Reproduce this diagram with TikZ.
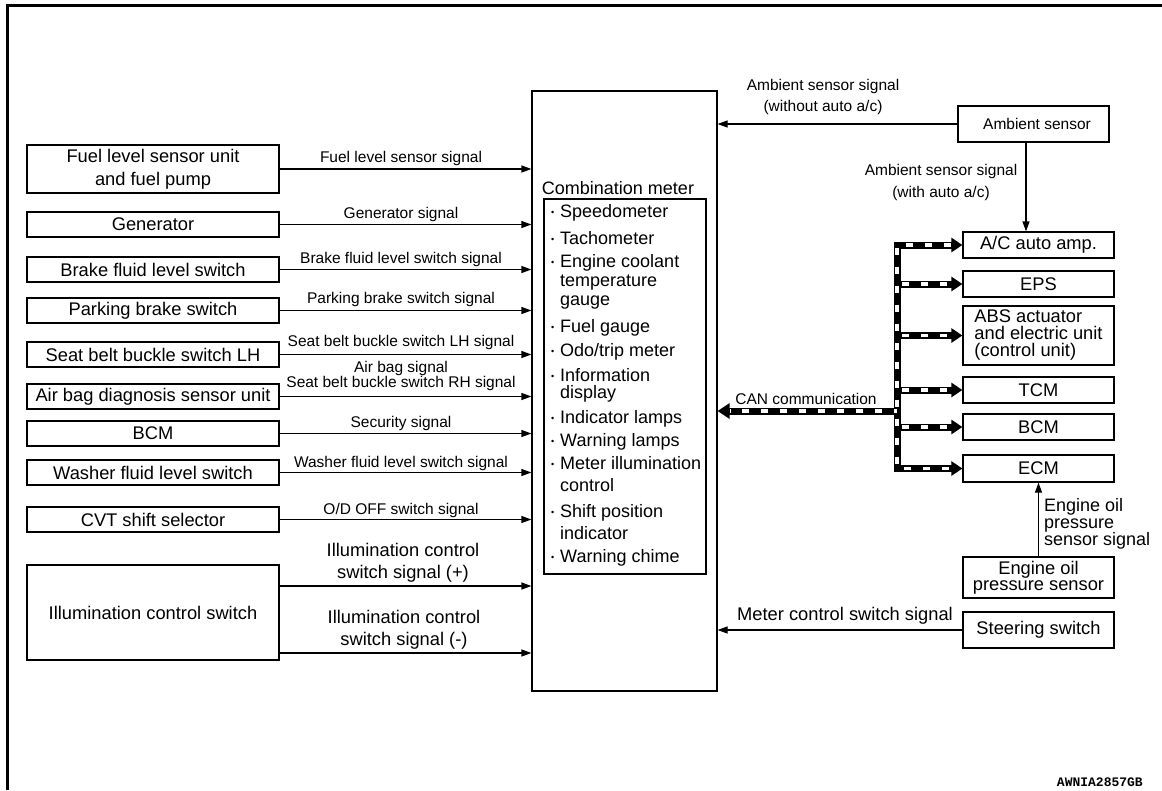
\documentclass[tikz,border=0pt]{standalone}
\usepackage{fontspec}
\setmainfont{Liberation Sans}
\newfontfamily\codefont{Liberation Mono}
\usetikzlibrary{arrows.meta,calc}
\newcommand\bul{\llap{\raisebox{1.8pt}{\fontsize{9}{9}\selectfont •}\hspace{6pt}}}
\tikzset{
  blk/.style={draw, line width=1.2pt, inner sep=0pt, align=center, font=\fontsize{18.3}{21}\selectfont},
  lbox/.style={blk, minimum width=252pt, minimum height=25pt},
  rbox/.style={blk, minimum width=151pt},
  lbl/.style={inner sep=0pt, align=center, font=\fontsize{15.5}{14}\selectfont},
  biglbl/.style={inner sep=0pt, align=center, font=\fontsize{18.3}{22}\selectfont},
  sig/.style={line width=1.2pt, -{Triangle[length=10pt,width=7pt]}},
  canb/.style={line width=7pt},
  cantip/.style={-{Triangle[length=12pt,width=15pt]}},
  canw/.style={line width=3.6pt, white, dash pattern=on 7pt off 12pt},
  item/.style={anchor=west, inner sep=0pt, align=left, font=\fontsize{18}{21}\selectfont},
}
\begin{document}
\begin{tikzpicture}[x=1pt,y=-1pt]
\useasboundingbox (0,0) rectangle (1162,790);
% frame
\draw[line width=3.5pt] (7.5,790) -- (7.5,5.5) -- (1162,5.5);

% combination meter
\node[draw, line width=1.2pt, minimum width=185pt, minimum height=600pt, inner sep=0pt] (meter) at (624.5,391) {};
\node[draw, line width=1.2pt, minimum width=162pt, minimum height=375pt, inner sep=0pt] (list) at (625,386.5) {};
\node[item, anchor=center] (title) at (618,188) {Combination meter};
\node[item] (i1) at (560,213) {\bul Speedometer};
\node[item] (i2) at (560,238) {\bul Tachometer};
\node[item, font=\fontsize{18}{19}\selectfont] (i3) at (560,282) {\bul Engine coolant\\temperature\\gauge};
\node[item] (i4) at (560,328) {\bul Fuel gauge};
\node[item] (i5) at (560,352) {\bul Odo/trip meter};
\node[item, font=\fontsize{18}{17}\selectfont] (i6) at (560,385) {\bul Information\\display};
\node[item] (i7) at (560,419) {\bul Indicator lamps};
\node[item] (i8) at (560,442) {\bul Warning lamps};
\node[item, font=\fontsize{18}{22}\selectfont] (i9) at (560,474) {\bul Meter illumination\\control};
\node[item, font=\fontsize{18}{22}\selectfont] (i10) at (560,522) {\bul Shift position\\indicator};
\node[item] (i11) at (560,558) {\bul Warning chime};

% left boxes
\node[lbox, minimum height=48pt, font=\fontsize{18.3}{23}\selectfont] (fuel) at (153,169) {Fuel level sensor unit\\and fuel pump};
\node[lbox] (gen) at (153,224.5) {Generator};
\node[lbox] (brake) at (153,269.5) {Brake fluid level switch};
\node[lbox] (park) at (153,310.5) {Parking brake switch};
\node[lbox] (seat) at (153,354.5) {Seat belt buckle switch LH};
\node[lbox] (air) at (153,396.5) {Air bag diagnosis sensor unit};
\node[lbox] (bcml) at (153,433.5) {BCM};
\node[lbox] (wash) at (153,472.5) {Washer fluid level switch};
\node[lbox] (cvt) at (153,519.5) {CVT shift selector};
\node[lbox, minimum height=95pt] (illum) at (153,612.5) {Illumination control switch};

% left signals
\draw[sig] (fuel.east) -- (fuel.east -| meter.west);
\draw[sig] (gen.east) -- (gen.east -| meter.west);
\draw[sig] (brake.east) -- (brake.east -| meter.west);
\draw[sig] (park.east) -- (park.east -| meter.west);
\draw[sig] (seat.east) -- (seat.east -| meter.west);
\draw[sig] (air.east) -- (air.east -| meter.west);
\draw[sig] (bcml.east) -- (bcml.east -| meter.west);
\draw[sig] (wash.east) -- (wash.east -| meter.west);
\draw[sig] (cvt.east) -- (cvt.east -| meter.west);
\coordinate (ip) at ([yshift=26.5pt]illum.east);
\coordinate (im) at ([yshift=-40.5pt]illum.east);
\draw[sig] (ip) -- (ip -| meter.west);
\draw[sig] (im) -- (im -| meter.west);

\node[lbl] (lfuel) at (401,158) {Fuel level sensor signal};
\node[lbl] (lgen) at (401,214) {Generator signal};
\node[lbl] (lbrake) at (401,259) {Brake fluid level switch signal};
\node[lbl] (lpark) at (401,299) {Parking brake switch signal};
\node[lbl] (lseat) at (401,342) {Seat belt buckle switch LH signal};
\node[lbl] (lair) at (401,376) {Air bag signal\\Seat belt buckle switch RH signal};
\node[lbl] (lsec) at (401,423) {Security signal};
\node[lbl] (lwash) at (401,463) {Washer fluid level switch signal};
\node[lbl] (lod) at (401,510) {O/D OFF switch signal};
\node[biglbl] (lip) at (403,563) {Illumination control\\switch signal (+)};
\node[biglbl] (lim) at (404,630) {Illumination control\\switch signal (-)};

% right boxes
\node[rbox, minimum height=36pt, font=\fontsize{15.5}{18}\selectfont] (amb) at (1033.5,124) {\hspace{7pt}Ambient sensor};
\node[rbox, minimum height=26pt] (ac) at (1038.5,245) {A/C auto amp.};
\node[rbox, minimum height=26pt] (eps) at (1038.5,284) {EPS};
\node[rbox, minimum height=59pt, align=left, font=\fontsize{18.3}{17}\selectfont] (abs) at (1038.5,335.5) {ABS actuator\\and electric unit\\(control unit)};
\node[rbox, minimum height=26pt] (tcm) at (1038.5,390) {TCM};
\node[rbox, minimum height=26pt] (bcmr) at (1038.5,427) {BCM};
\node[rbox, minimum height=27pt] (ecm) at (1038.5,468.5) {ECM};
\node[rbox, minimum height=41pt, font=\fontsize{18.3}{16}\selectfont] (oil) at (1038.5,577.5) {Engine oil\\pressure sensor};
\node[rbox, minimum height=36pt] (steer) at (1038.5,630) {Steering switch};

% right signals
\draw[sig] (amb.west) -- (amb.west -| meter.east);
\coordinate (av) at ([xshift=-7.5pt]amb.south);
\draw[sig] (av) -- (av |- ac.north);
\draw[sig] (oil.north) -- (ecm.south);
\draw[sig] (steer.west) -- (steer.west -| meter.east);

\node[lbl, font=\fontsize{15.5}{21}\selectfont] (lamb1) at (823,97) {Ambient sensor signal\\(without auto a/c)};
\node[lbl, font=\fontsize{15.5}{22}\selectfont] (lamb2) at (941,182) {Ambient sensor signal\\(with auto a/c)};
\node[biglbl, anchor=west, align=left, font=\fontsize{18}{16.5}\selectfont] (loil) at (1044,524) {Engine oil\\pressure\\sensor signal};
\node[biglbl] (lsteer) at (845,616) {Meter control switch signal};

% CAN communication
\coordinate (bt) at (897,0);
\coordinate (cj) at (897,411);
\draw[canb, cantip] (cj) -- (cj -| meter.east);
\draw[canb, {Triangle[length=11pt,width=14pt]}-{Triangle[length=11pt,width=14pt]}] (ac.west) -- (ac.west -| bt) -- (ecm.west -| bt) -- (ecm.west);
\foreach \b in {eps,abs,tcm,bcmr}{
  \draw[canb, -{Triangle[length=11pt,width=14pt]}] (\b.west -| bt) -- (\b.west);
}
\draw[canw, shorten >=12pt, dash phase=4pt] (cj) -- (cj -| meter.east);
\draw[canw, shorten >=11pt, shorten <=11pt] (ac.west) -- (ac.west -| bt) -- (ecm.west -| bt) -- (ecm.west);
\foreach \b in {eps,abs,tcm,bcmr}{
  \draw[canw, shorten >=11pt, shorten <=5pt] (\b.west -| bt) -- (\b.west);
}
\node[lbl] (lcan) at (806,399) {CAN communication};

% code
\node[inner sep=0pt, anchor=east, font=\codefont\bfseries\fontsize{13}{14}\selectfont] (code) at (1143,782) {AWNIA2857GB};
\end{tikzpicture}
\end{document}
